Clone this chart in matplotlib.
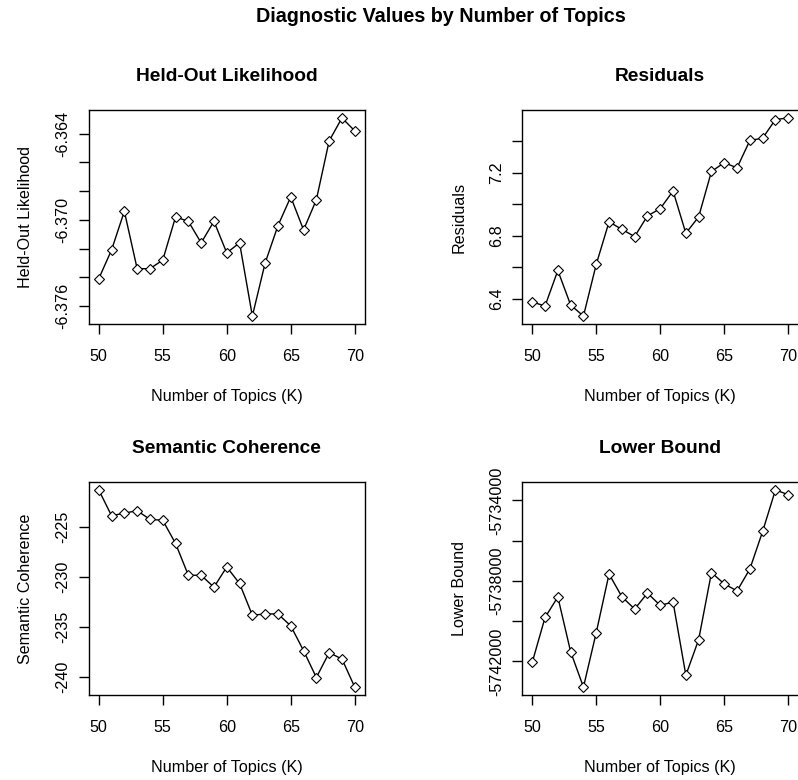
import matplotlib
matplotlib.use("Agg")
import matplotlib.pyplot as plt
import numpy as np

plt.rcParams['font.family'] = ['Liberation Sans', 'DejaVu Sans']

# 数据
k_values = list(range(50, 71))

heldout = [-6.3741, -6.3721, -6.3694, -6.3734, -6.3734, -6.3728, -6.3698,
           -6.3701, -6.3716, -6.3701, -6.3723, -6.3716, -6.3767, -6.3730,
           -6.3704, -6.3684, -6.3707, -6.3686, -6.3645, -6.3629, -6.3638]

residuals = [6.381, 6.356, 6.581, 6.362, 6.292, 6.620, 6.889, 6.842, 6.796,
             6.927, 6.973, 7.085, 6.817, 6.921, 7.209, 7.264, 7.232, 7.405,
             7.420, 7.538, 7.548]

semcoh = [-221.33, -223.91, -223.65, -223.41, -224.27, -224.37, -226.68,
          -229.86, -229.86, -231.05, -229.03, -230.68, -233.85, -233.72,
          -233.72, -234.91, -237.39, -240.07, -237.59, -238.22, -241.03]

lbound = [-5742049, -5739820, -5738801, -5741525, -5743280, -5740570,
          -5737660, -5738790, -5739400, -5738610, -5739220, -5739050,
          -5742690, -5740920, -5737590, -5738150, -5738500, -5737410,
          -5735540, -5733480, -5733720]

x_ticks = [50, 55, 60, 65, 70]

# 每个面板: 标题, y值, y刻度, 显示标签的刻度
panels = [
    ("Held-Out Likelihood", heldout,
     [-6.376, -6.374, -6.372, -6.370, -6.368, -6.366, -6.364],
     [-6.376, -6.370, -6.364], "{:.3f}"),
    ("Residuals", residuals,
     [6.4, 6.6, 6.8, 7.0, 7.2, 7.4],
     [6.4, 6.8, 7.2], "{:.1f}"),
    ("Semantic Coherence", semcoh,
     [-240, -235, -230, -225],
     [-240, -235, -230, -225], "{:.0f}"),
    ("Lower Bound", lbound,
     [-5742000, -5740000, -5738000, -5736000, -5734000],
     [-5742000, -5738000, -5734000], "{:.0f}"),
]

# 面板位置 (像素 -> 比例)
W, H = 798, 780
boxes = [
    (88.5, 110, 365, 324),
    (522, 110, 798.5, 324),
    (88.5, 482, 365, 695),
    (522, 482, 798.5, 695),
]

fig = plt.figure(figsize=(W / 100, H / 100), dpi=100)

for (title, vals, yt, ylab, fmt), (x0, y0, x1, y1) in zip(panels, boxes):
    ax = fig.add_axes([x0 / W, 1 - y1 / H, (x1 - x0) / W, (y1 - y0) / H])
    ax.plot(k_values, vals, color='black', lw=1.0, zorder=2)
    ax.plot(k_values, vals, linestyle='none', marker='D', markersize=5,
            mfc='white', mec='black', mew=0.8, zorder=3)

    # R 默认 4% 扩展
    lo, hi = min(vals), max(vals)
    pad = (hi - lo) * 0.04
    ax.set_ylim(lo - pad, hi + pad)
    ax.set_xlim(50 - 0.8, 70 + 0.8)

    ax.set_xticks(x_ticks)
    ax.set_xticklabels([str(v) for v in x_ticks])
    ax.set_yticks(yt)
    ax.set_yticklabels([fmt.format(v) if v in ylab else "" for v in yt],
                       rotation=90, va='center')

    ax.tick_params(direction='out', length=7, width=1, labelsize=11.6,
                   pad=6)
    ax.tick_params(axis='x', pad=11)
    for s in ax.spines.values():
        s.set_linewidth(1.0)

    ax.set_title(title, fontsize=13.8, fontweight='bold', pad=21)
    ax.set_xlabel("Number of Topics (K)", fontsize=11.6, labelpad=18)
    ax.set_ylabel(title, fontsize=11.6, labelpad=16)

fig.text(441 / W, 1 - 17 / H, "Diagnostic Values by Number of Topics",
         ha='center', va='center', fontsize=14.2, fontweight='bold')

fig.savefig("out.png", dpi=100)
